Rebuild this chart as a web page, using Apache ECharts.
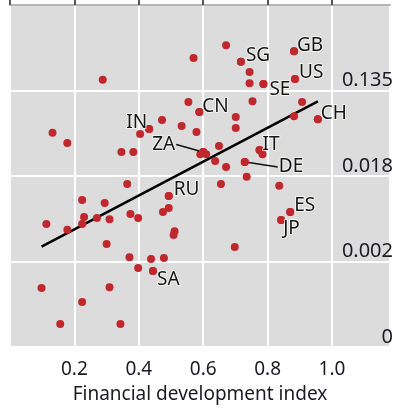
<!DOCTYPE html>
<html><head><meta charset="utf-8">
<script src="https://cdn.jsdelivr.net/npm/echarts@6/dist/echarts.min.js"></script>
<style>html,body{margin:0;padding:0;background:#fff}#c{width:396px;height:412px}</style>
</head><body><div id="c"></div>
<script>
// Country codes ('' = unlabelled), financial development index (x), natural log of y value
const codes = ['', 'SG', '', '', 'SE', 'GB', 'US', '', '', '', 'CH', 'CN', '', '', '', '', '', '', '', 'ZA',
  '', '', '', '', 'DE', '', 'IT', '', '', '', '', '', 'IN', '', '', '', '', '', '', 'RU',
  '', '', '', '', '', '', '', '', '', '', '', '', '', '', '', '', '', '', '', 'SA',
  '', 'ES', 'JP', '', '', '', '', ''];
const finDev = [0.671, 0.717, 0.744, 0.744, 0.787, 0.882, 0.885, 0.753, 0.907, 0.882, 0.956, 0.588, 0.554, 0.570, 0.288, 0.701, 0.701, 0.579, 0.649, 0.600,
  0.591, 0.609, 0.637, 0.671, 0.729, 0.735, 0.775, 0.784, 0.655, 0.836, 0.533, 0.472, 0.432, 0.404, 0.383, 0.346, 0.132, 0.178, 0.364, 0.493,
  0.493, 0.475, 0.511, 0.508, 0.374, 0.398, 0.224, 0.294, 0.230, 0.224, 0.270, 0.309, 0.113, 0.178, 0.300, 0.371, 0.398, 0.438, 0.478, 0.444,
  0.698, 0.870, 0.842, 0.098, 0.309, 0.224, 0.156, 0.343];
const logY = [-0.94, -1.33, -1.57, -1.83, -1.85, -1.08, -1.73, -2.25, -2.27, -2.60, -2.67, -2.50, -2.27, -1.24, -1.75, -2.62, -2.88, -2.97, -3.30, -3.44,
  -3.49, -3.49, -3.65, -3.79, -3.67, -4.02, -3.39, -3.49, -4.19, -4.23, -2.83, -2.69, -2.90, -3.02, -3.44, -3.44, -2.99, -3.23, -4.19, -4.47,
  -4.75, -4.84, -5.29, -5.38, -4.89, -4.98, -4.56, -4.63, -4.96, -5.12, -4.98, -5.01, -5.12, -5.26, -5.59, -5.90, -6.15, -5.94, -5.92, -6.22,
  -5.66, -4.84, -5.03, -6.62, -6.60, -6.95, -7.46, -7.46];
// Y tick values (log scale) and their printed labels
const yTickValues = [-8, -6, -4, -2];
const yTickLabels = ['0', '0.002', '0.018', '0.135'];
const xTickLabels = ['0.2', '0.4', '0.6', '0.8', '1.0'];
// Fitted line
const fitIntercept = -6.04, fitSlope = 3.96;

// Label placement styles (not data)
const labelPlace = {
  GB: {position: 'right', offset: [-1, -6]},
  SG: {position: 'right', offset: [1, -6]},
  US: {position: 'right', offset: [0, -6.5]},
  SE: {position: 'right', offset: [2, 6]},
  CN: {position: 'right', offset: [-1, -5.5]},
  CH: {position: 'right', offset: [-1, -5.5]},
  IT: {position: 'right', offset: [-1, -5]},
  RU: {position: 'right', offset: [1, -6.5]},
  SA: {position: 'right', offset: [0, 9]},
  ES: {position: 'right', offset: [0, -6.5]},
  JP: {position: 'right', offset: [-2, 8.5]},
  IN: {position: 'left', offset: [2, -6.5]}
};
const leaderPlace = {
  ZA: {position: 'left', dx: -24, dy: -7.5},
  DE: {position: 'right', dx: 30, dy: 5}
};

const FONT = 'Noto Sans';
const dotColor = '#c0282d';
const allPts = finDev.map((x, i) => [x, logY[i]]);
const labelled = [], leadered = [];
codes.forEach((c, i) => {
  if (labelPlace[c]) {
    const p = labelPlace[c];
    labelled.push({value: [finDev[i], logY[i]], name: c,
      label: {position: p.position, distance: 0, offset: p.offset}});
  } else if (leaderPlace[c]) {
    leadered.push({value: [finDev[i], logY[i]], name: c,
      label: {position: leaderPlace[c].position, distance: 0}});
  }
});
const xMin = Math.min(...finDev), xMax = Math.max(...finDev);
const fitData = [[xMin, fitIntercept + fitSlope * xMin], [xMax, fitIntercept + fitSlope * xMax]];

const labelText = {show: true, formatter: '{b}', fontFamily: FONT, fontSize: 19, color: '#151520',
  textBorderColor: 'rgba(255,255,240,0.7)', textBorderWidth: 2};

const chart = echarts.init(document.getElementById('c'), null, {renderer: 'canvas'});
chart.setOption({
  animation: false,
  backgroundColor: '#fff',
  grid: {left: 10, right: 0, top: 5, bottom: 65, show: true, backgroundColor: '#dcdcdc', borderWidth: 0},
  xAxis: [{
    type: 'value', min: 0, max: 1.18, interval: 0.2,
    name: 'Financial development index', nameLocation: 'middle', nameGap: 38,
    nameTextStyle: {fontFamily: FONT, fontSize: 19, color: '#1a1a22'},
    axisLine: {show: false},
    axisTick: {show: true, inside: true, length: 14, lineStyle: {color: '#555', width: 2}},
    axisLabel: {margin: 13, fontFamily: FONT, fontSize: 19, color: '#1a1a22', showMaxLabel: false,
      formatter: v => { const k = Math.round(v / 0.2) - 1; return (k >= 0 && k < xTickLabels.length && Math.abs(v - 0.2 * (k + 1)) < 1e-6) ? xTickLabels[k] : ''; }},
    splitLine: {show: true, lineStyle: {color: '#ffffff', width: 2}}
  }, {
    type: 'value', position: 'top', min: 0, max: 1.18,
    axisLine: {show: true, lineStyle: {color: '#b5b5b5', width: 2}},
    axisTick: {show: false}, axisLabel: {show: false}, splitLine: {show: false}
  }],
  yAxis: {
    type: 'value', position: 'right', min: -8, max: 0, interval: 2,
    axisLine: {show: false}, axisTick: {show: false},
    axisLabel: {inside: true, margin: -3, align: 'right', verticalAlign: 'bottom',
      fontFamily: FONT, fontSize: 20, color: '#1a1a22',
      formatter: v => { const k = yTickValues.indexOf(v); return k >= 0 ? yTickLabels[k] : ''; }},
    splitLine: {show: true, lineStyle: {color: '#ffffff', width: 2}}
  },
  series: [
    {type: 'line', data: fitData, symbol: 'none', lineStyle: {color: '#000', width: 2.5}, z: 2, silent: true},
    {type: 'scatter', data: allPts, symbolSize: 8, itemStyle: {color: dotColor, opacity: 1}, z: 3},
    {type: 'scatter', data: labelled, symbolSize: 8, itemStyle: {color: dotColor, opacity: 1}, z: 4,
      label: labelText},
    {type: 'scatter', data: leadered, symbolSize: 8, itemStyle: {color: dotColor, opacity: 1}, z: 4,
      label: labelText,
      labelLine: {show: true, lineStyle: {color: '#111', width: 1.5}},
      labelLayout: function (params) {
        const p = leaderPlace[leadered[params.dataIndex].name];
        return {dx: p.dx, dy: p.dy};
      }}
  ]
});
</script></body></html>
